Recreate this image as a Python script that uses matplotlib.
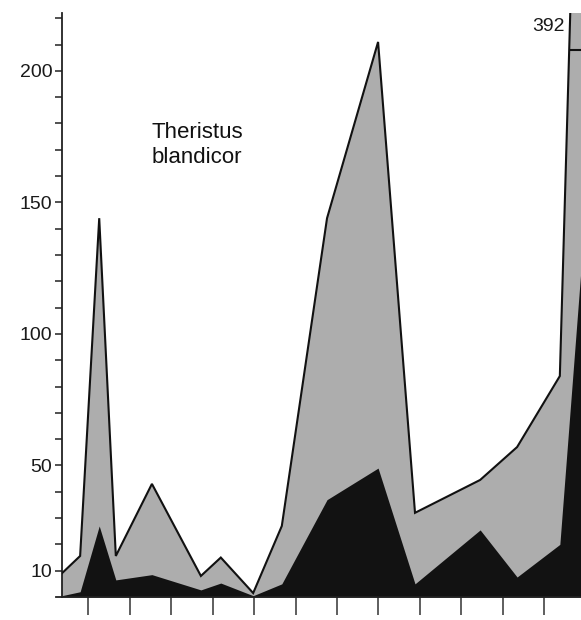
import matplotlib
matplotlib.use("Agg")
import matplotlib.pyplot as plt
from matplotlib.lines import Line2D

plt.rcParams['font.family'] = ['Liberation Sans', 'DejaVu Sans']

# station positions (tick units) and abundances
x_pos = [0.37, 0.81, 1.27, 1.67, 2.54, 3.72, 4.20, 4.98, 5.67, 6.76,
         7.99, 8.88, 10.45, 11.34, 12.37, 12.93]
total = [9, 15.6, 144, 15.6, 43, 8, 15, 1.5, 27, 144,
         211, 32, 44.5, 57, 84, 392]
inner = [0.5, 2, 27, 6.5, 8.5, 2.7, 5.3, 0.5, 5, 37,
         49, 5, 25.5, 7.6, 20, 135]
x_ticks = list(range(1, 13))
y_ticks = list(range(10, 230, 10))
y_labeled = [10, 50, 100, 150, 200]
species = "Theristus\nblandicor"
clipped_label = "392"

fig = plt.figure(figsize=(5.81, 6.2), dpi=100)
ax = fig.add_axes([62/581, 23/620, 1 - 62/581, (597-13)/620])
ax.set_xlim(0.373, 12.88)
ax.set_ylim(0, 222)

ax.fill_between(x_pos, 0, total, color='#adadad', lw=0, zorder=1)
ax.fill_between(x_pos, 0, inner, color='#121212', lw=0, zorder=2)
ax.plot(x_pos, total, color='#111111', lw=1.5, zorder=3, solid_joinstyle='miter')

for s in ['top', 'right']:
    ax.spines[s].set_visible(False)
ax.spines['left'].set_linewidth(1.3)
ax.spines['bottom'].set_linewidth(1.3)
ax.spines['left'].set_color('#222222')
ax.spines['bottom'].set_color('#222222')
# bottom line extends a little left of the y axis
ax.add_line(Line2D([-0.012, 0], [0, 0], transform=ax.transAxes, color='#222222',
                   lw=1.3, clip_on=False))

ax.set_yticks(y_ticks)
ax.set_yticklabels([str(v) if v in y_labeled else '' for v in y_ticks])
ax.tick_params(axis='y', direction='out', length=5, width=1.1, color='#222222',
               labelsize=14, pad=2, labelcolor='#1a1a1a')
ax.set_xticks(x_ticks)
ax.set_xticklabels([])
ax.tick_params(axis='x', direction='out', length=13, width=1.1, color='#333333')

ax.text(12.49, 217, clipped_label, ha='right', va='center', fontsize=14, color='#1a1a1a')
ax.plot([12.64, 12.95], [208, 208], color='#111111', lw=1.5, zorder=4, clip_on=False)

fig.text(152/581, 1 - 163/620, species, ha='left', va='baseline', fontsize=16,
         linespacing=1.25, color='#111111')

fig.savefig("out.png", dpi=100, facecolor='white')
